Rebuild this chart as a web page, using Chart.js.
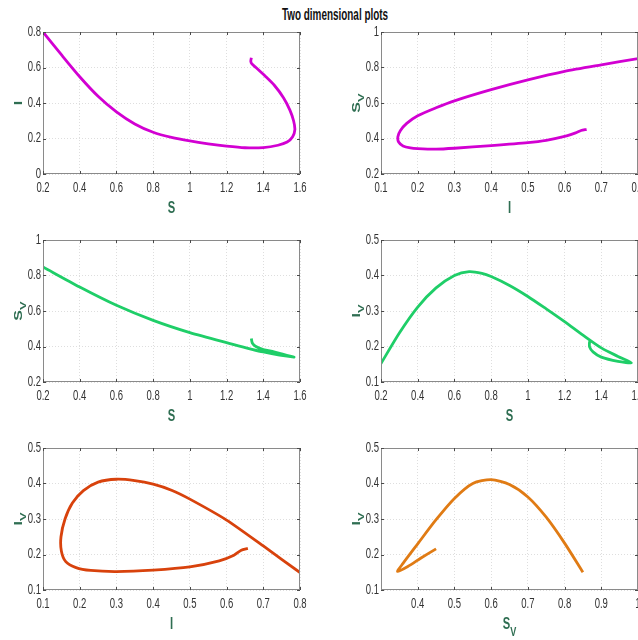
<!DOCTYPE html>
<html>
<head>
<meta charset="utf-8">
<title>Two dimensional plots</title>
<script src="https://cdn.jsdelivr.net/npm/chart.js@4.4.1/dist/chart.umd.min.js"></script>
<style>
  html, body { margin: 0; padding: 0; background: #fff; width: 638px; height: 640px; overflow: hidden; }
  .panel { position: absolute; }
  #title {
    position: absolute; top: 6px; left: 335px;
    transform: translateX(-50%) scaleX(0.62);
    font: bold 16px "Liberation Sans", Arial, sans-serif;
    color: #111; white-space: nowrap;
  }
</style>
</head>
<body>
<div id="title">Two dimensional plots</div>

<script>
// Trajectory values (x, y pairs)
const p1S  = [0.2, 0.3, 0.4, 0.5, 0.6, 0.7, 0.8, 0.9, 1.0, 1.1, 1.2, 1.3, 1.4, 1.48, 1.53, 1.56, 1.572, 1.565, 1.545, 1.51, 1.46, 1.41, 1.36, 1.338, 1.332, 1.335];
const p1I  = [0.8, 0.672, 0.548, 0.438, 0.35, 0.282, 0.235, 0.206, 0.186, 0.17, 0.157, 0.148, 0.149, 0.162, 0.18, 0.21, 0.25, 0.3, 0.36, 0.43, 0.5, 0.552, 0.6, 0.62, 0.635, 0.655];

const p2I  = [0.8, 0.7, 0.6, 0.5, 0.4, 0.3, 0.25, 0.2, 0.17, 0.153, 0.146, 0.148, 0.16, 0.18, 0.2, 0.25, 0.3, 0.4, 0.5, 0.55, 0.6, 0.63, 0.645, 0.66];
const p2Sv = [0.85, 0.815, 0.778, 0.73, 0.675, 0.612, 0.573, 0.528, 0.485, 0.445, 0.41, 0.38, 0.358, 0.347, 0.343, 0.34, 0.345, 0.36, 0.377, 0.39, 0.412, 0.432, 0.445, 0.452];

const p3S  = [0.2, 0.4, 0.6, 0.8, 1.0, 1.2, 1.4, 1.567, 1.5, 1.458, 1.4, 1.36, 1.34, 1.335];
const p3Sv = [0.848, 0.735, 0.632, 0.547, 0.478, 0.422, 0.369, 0.34, 0.358, 0.37, 0.383, 0.4, 0.42, 0.445];

const p4S  = [0.2, 0.3, 0.4, 0.5, 0.6, 0.68, 0.75, 0.8, 0.9, 1.0, 1.1, 1.2, 1.3, 1.4, 1.491, 1.564, 1.491, 1.4, 1.355, 1.336, 1.336];
const p4Iv = [0.152, 0.238, 0.311, 0.365, 0.4, 0.411, 0.406, 0.397, 0.372, 0.341, 0.306, 0.27, 0.232, 0.196, 0.172, 0.154, 0.158, 0.17, 0.185, 0.199, 0.215];

const p5I  = [0.8, 0.7, 0.6, 0.5, 0.45, 0.4, 0.35, 0.3, 0.25, 0.21, 0.18, 0.16, 0.149, 0.15, 0.162, 0.19, 0.23, 0.3, 0.4, 0.5, 0.58, 0.62, 0.64, 0.658];
const p5Iv = [0.149, 0.224, 0.297, 0.356, 0.381, 0.398, 0.408, 0.412, 0.404, 0.38, 0.345, 0.3, 0.25, 0.21, 0.18, 0.163, 0.155, 0.152, 0.156, 0.165, 0.182, 0.198, 0.212, 0.217];

const p6Sv = [0.85, 0.8, 0.75, 0.7, 0.65, 0.6, 0.55, 0.5, 0.45, 0.4, 0.36, 0.345, 0.373, 0.409, 0.45];
const p6Iv = [0.15, 0.232, 0.305, 0.362, 0.397, 0.411, 0.4, 0.358, 0.298, 0.23, 0.175, 0.152, 0.166, 0.19, 0.216];

// Tick values
const ticksS     = [0.2, 0.4, 0.6, 0.8, 1.0, 1.2, 1.4, 1.6];
const ticksIx    = [0.1, 0.2, 0.3, 0.4, 0.5, 0.6, 0.7, 0.8];
const ticksIy    = [0, 0.2, 0.4, 0.6, 0.8];
const ticksSvY   = [0.2, 0.4, 0.6, 0.8, 1.0];
const ticksIvY   = [0.1, 0.2, 0.3, 0.4, 0.5];
const ticksSvX   = [0.4, 0.5, 0.6, 0.7, 0.8, 0.9, 1.0];

const TEXT_FONT = '"Liberation Sans", Arial, sans-serif';
const LABEL_GREEN = '#2f6e52';

// panel geometry (plot area)
const PLOT_W = 257, PLOT_H = 142;
const Y_AXIS_W = 43, X_AXIS_H = 46, PAD_TOP = 6, PAD_RIGHT = 12;

const panels = [
  { x: p1S,  y: p1I,  color: '#d200d2', xTicks: ticksS,   xMin: 0.2, xMax: 1.6, yTicks: ticksIy,  yMin: 0,   yMax: 0.8, xTitle: ['S'],      yTitle: ['I'],      left: 43,  top: 32 },
  { x: p2I,  y: p2Sv, color: '#d200d2', xTicks: ticksIx,  xMin: 0.1, xMax: 0.8, yTicks: ticksSvY, yMin: 0.2, yMax: 1,   xTitle: ['I'],      yTitle: ['S', 'V'], left: 381, top: 32 },
  { x: p3S,  y: p3Sv, color: '#1fce68', xTicks: ticksS,   xMin: 0.2, xMax: 1.6, yTicks: ticksSvY, yMin: 0.2, yMax: 1,   xTitle: ['S'],      yTitle: ['S', 'V'], left: 43,  top: 240 },
  { x: p4S,  y: p4Iv, color: '#1fce68', xTicks: ticksS,   xMin: 0.2, xMax: 1.6, yTicks: ticksIvY, yMin: 0.1, yMax: 0.5, xTitle: ['S'],      yTitle: ['I', 'V'], left: 381, top: 240 },
  { x: p5I,  y: p5Iv, color: '#d8420c', xTicks: ticksIx,  xMin: 0.1, xMax: 0.8, yTicks: ticksIvY, yMin: 0.1, yMax: 0.5, xTitle: ['I'],      yTitle: ['I', 'V'], left: 43,  top: 448 },
  { x: p6Sv, y: p6Iv, color: '#e07b14', xTicks: ticksSvX, xMin: 0.3, xMax: 1.0, yTicks: ticksIvY, yMin: 0.1, yMax: 0.5, xTitle: ['S', 'V'], yTitle: ['I', 'V'], left: 381, top: 448 }
];

function fmt(v) {
  return String(Math.round(v * 10) / 10);
}

// the source figure is squeezed sideways, so text is drawn narrowed
function squeezedText(ctx, text, x, y, align, sx) {
  ctx.save();
  ctx.translate(x, y);
  ctx.scale(sx, 1);
  ctx.textAlign = align;
  ctx.textBaseline = 'middle';
  ctx.fillText(text, 0, 0);
  ctx.restore();
}

// axis label with optional subscript
function drawAxisTitle(ctx, parts, cx, cy, vertical) {
  const main = parts[0], sub = parts[1];
  ctx.save();
  ctx.translate(cx, cy);
  ctx.scale(0.7, 1);
  if (vertical) ctx.rotate(-Math.PI / 2);
  ctx.textBaseline = 'middle';
  ctx.textAlign = 'left';
  ctx.font = 'bold 16px ' + TEXT_FONT;
  const mw = ctx.measureText(main).width;
  ctx.font = 'bold 13px ' + TEXT_FONT;
  const sw = sub ? ctx.measureText(sub).width : 0;
  const x0 = -(mw + sw) / 2;
  ctx.font = 'bold 16px ' + TEXT_FONT;
  ctx.fillText(main, x0, 0);
  if (sub) {
    ctx.font = 'bold 13px ' + TEXT_FONT;
    ctx.fillText(sub, x0 + mw, 7);
  }
  ctx.restore();
}

// MATLAB-like box, inward tick marks, tick labels and axis titles
const framePlugin = {
  id: 'frame',
  afterDraw(chart, args, opts) {
    const { ctx, chartArea: a } = chart;
    const xs = chart.scales.x, ys = chart.scales.y;
    ctx.save();
    ctx.strokeStyle = '#8a8a8a';
    ctx.lineWidth = 1;
    ctx.strokeRect(Math.round(a.left) + 0.5, Math.round(a.top) + 0.5,
                   Math.round(a.right - a.left) - 1, Math.round(a.bottom - a.top) - 1);
    ctx.strokeStyle = '#4a4a4a';
    ctx.beginPath();
    xs.ticks.forEach(t => {
      const p = Math.round(xs.getPixelForValue(t.value)) + 0.5;
      ctx.moveTo(p, a.bottom); ctx.lineTo(p, a.bottom - 3);
      ctx.moveTo(p, a.top); ctx.lineTo(p, a.top + 3);
    });
    ys.ticks.forEach(t => {
      const p = Math.round(ys.getPixelForValue(t.value)) + 0.5;
      ctx.moveTo(a.left, p); ctx.lineTo(a.left + 3, p);
      ctx.moveTo(a.right, p); ctx.lineTo(a.right - 3, p);
    });
    ctx.stroke();

    // tick labels
    ctx.fillStyle = '#333';
    ctx.font = '14px ' + TEXT_FONT;
    xs.ticks.forEach(t => {
      squeezedText(ctx, fmt(t.value), xs.getPixelForValue(t.value), a.bottom + 14, 'center', 0.68);
    });
    ys.ticks.forEach(t => {
      squeezedText(ctx, fmt(t.value), a.left - 2, ys.getPixelForValue(t.value), 'right', 0.68);
    });

    ctx.fillStyle = LABEL_GREEN;
    drawAxisTitle(ctx, opts.xTitle, (a.left + a.right) / 2, a.bottom + 35, false);
    drawAxisTitle(ctx, opts.yTitle, a.left - 24, (a.top + a.bottom) / 2, true);
    ctx.restore();
  }
};

function makePanel(cfg, index) {
  const div = document.createElement('div');
  div.className = 'panel';
  const w = Y_AXIS_W + PLOT_W + PAD_RIGHT;
  const h = PAD_TOP + PLOT_H + X_AXIS_H;
  div.style.left = (cfg.left - Y_AXIS_W) + 'px';
  div.style.top = (cfg.top - PAD_TOP) + 'px';
  const canvas = document.createElement('canvas');
  canvas.width = w;
  canvas.height = h;
  canvas.id = 'plot' + (index + 1);
  div.appendChild(canvas);
  document.body.appendChild(div);

  const points = cfg.x.map((v, i) => ({ x: v, y: cfg.y[i] }));
  const gridCommon = { color: '#dedede', lineWidth: 1, drawTicks: false };

  new Chart(canvas.getContext('2d'), {
    type: 'scatter',
    data: {
      datasets: [{
        data: points,
        showLine: true,
        borderColor: cfg.color,
        borderWidth: 2.8,
        pointRadius: 0,
        tension: 0.25,
        fill: false
      }]
    },
    options: {
      responsive: false,
      animation: false,
      devicePixelRatio: 1,
      layout: { padding: { top: PAD_TOP, right: PAD_RIGHT, left: 0, bottom: 0 } },
      plugins: {
        legend: { display: false },
        tooltip: { enabled: false },
        frame: { xTitle: cfg.xTitle, yTitle: cfg.yTitle }
      },
      scales: {
        x: {
          type: 'linear',
          min: cfg.xMin,
          max: cfg.xMax,
          afterBuildTicks: s => { s.ticks = cfg.xTicks.map(v => ({ value: v })); },
          afterFit: s => { s.height = X_AXIS_H; },
          grid: gridCommon,
          border: { display: false, dash: [1, 2] },
          ticks: { display: false }
        },
        y: {
          type: 'linear',
          min: cfg.yMin,
          max: cfg.yMax,
          afterBuildTicks: s => { s.ticks = cfg.yTicks.map(v => ({ value: v })); },
          afterFit: s => { s.width = Y_AXIS_W; },
          grid: gridCommon,
          border: { display: false, dash: [1, 2] },
          ticks: { display: false }
        }
      }
    },
    plugins: [framePlugin]
  });
}

panels.forEach(makePanel);
</script>
</body>
</html>
